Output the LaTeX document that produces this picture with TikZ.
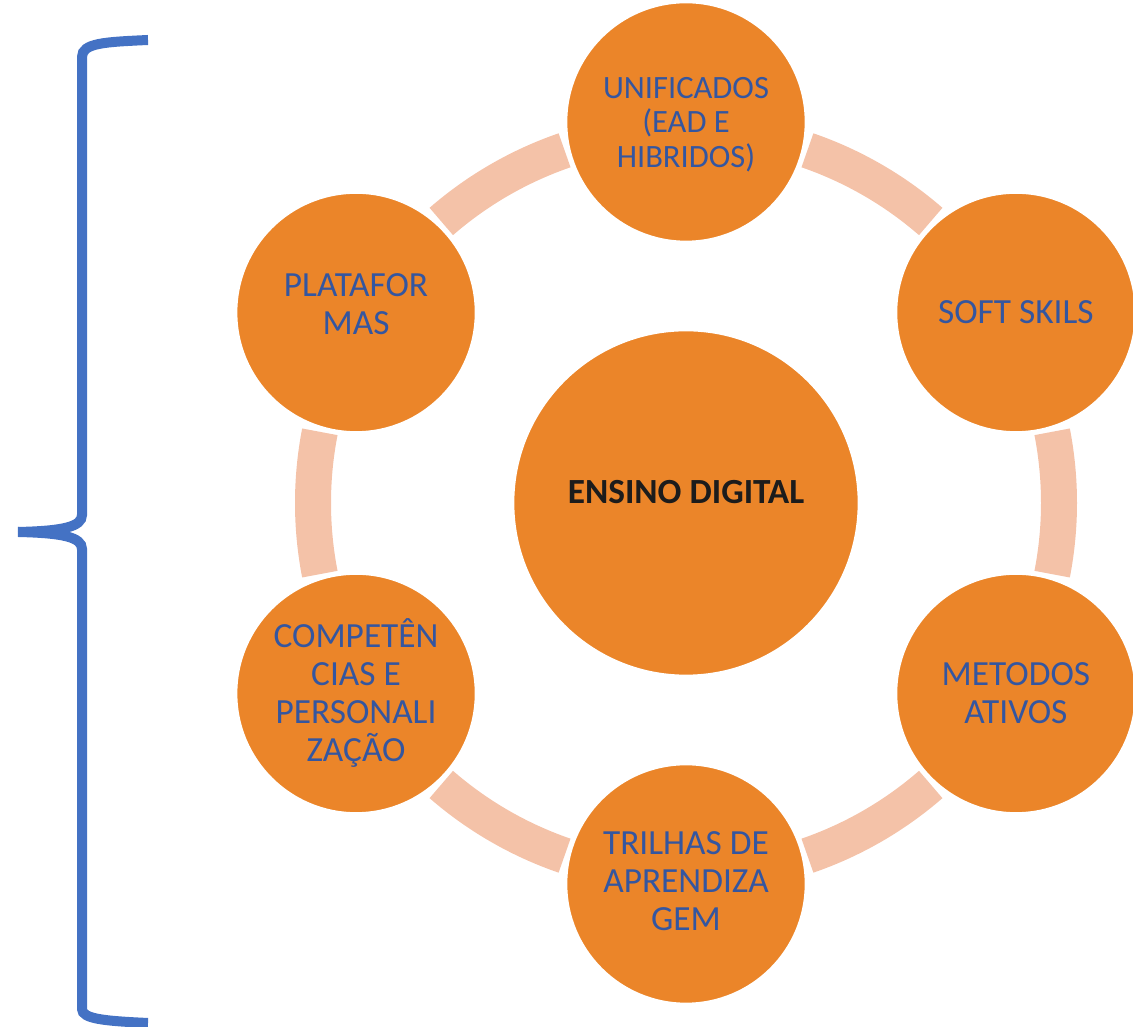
\documentclass[tikz,border=0pt]{standalone}
\usepackage{fontspec}
\setmainfont{Carlito}
\definecolor{orangefill}{RGB}{235,133,41}
\definecolor{peach}{RGB}{244,194,168}
\definecolor{txtblue}{RGB}{52,86,160}
\definecolor{txtdark}{RGB}{28,28,28}
\definecolor{braceblue}{RGB}{68,114,196}
\tikzset{
  outer/.style={circle, fill=orangefill, draw=white, line width=2pt, minimum size=180pt, inner sep=0pt},
  centre/.style={circle, fill=orangefill, draw=white, line width=2pt, minimum size=259.5pt, inner sep=0pt},
  outertext/.style={align=center, text=txtblue, inner sep=0pt, font=\fontsize{26.5}{28.5}\selectfont},
  toptext/.style={align=center, text=txtblue, inner sep=0pt, font=\fontsize{24.4}{26.2}\selectfont},
  centretext/.style={align=center, text=txtdark, inner sep=0pt, font=\fontsize{26.5}{28}\selectfont\bfseries},
  ringarc/.style={draw=peach, line width=27pt},
  bracestyle/.style={draw=braceblue, line width=7.5pt}
}
\begin{document}
\begin{tikzpicture}[x=0.75pt,y=0.75pt]
\useasboundingbox (0,0) rectangle (1133,1027);
\coordinate (C) at (686,524);
% ring arcs
\foreach \a in {90,30,-30,-90,-150,150}{
  \draw[ringarc] ([shift={(\a-19:279.75pt)}]C) arc[start angle=\a-19, end angle=\a-41, radius=279.75pt];
}
% circles
\node[centre] (c) at (C) {};
\node[outer] (n1) at ([shift={(90:285.75pt)}]C) {};
\node[outer] (n2) at ([shift={(30:285.75pt)}]C) {};
\node[outer] (n3) at ([shift={(-30:285.75pt)}]C) {};
\node[outer] (n4) at ([shift={(-90:285.75pt)}]C) {};
\node[outer] (n5) at ([shift={(-150:285.75pt)}]C) {};
\node[outer] (n6) at ([shift={(150:285.75pt)}]C) {};
% texts
\node[centretext] (tc) at ([yshift=8.5pt]c.center) {ENSINO DIGITAL};
\node[toptext] (t1) at ([yshift=-2pt]n1.center) {UNIFICADOS\\(EAD E\\HIBRIDOS)};
\node[outertext] (t2) at (n2.center) {SOFT SKILS};
\node[outertext] (t3) at (n3.center) {METODOS\\ATIVOS};
\node[outertext] (t4) at ([yshift=2pt]n4.center) {TRILHAS DE\\APRENDIZA\\GEM};
\node[outertext] (t5) at (n5.center) {COMPETÊN\\CIAS E\\PERSONALI\\ZAÇÃO};
\node[outertext] (t6) at ([yshift=6pt]n6.center) {PLATAFOR\\MAS};
% brace
\coordinate (bt) at (148,987);
\coordinate (btip) at (18,495);
\coordinate (bb) at (148,4);
\draw[bracestyle] (bt) .. controls (105,985) and (82,984) .. (82,970) -- (82,512)
  .. controls (82,500) and (62,496) .. (btip);
\draw[bracestyle] (btip) .. controls (62,494) and (82,490) .. (82,478) -- (82,18)
  .. controls (82,8) and (105,6) .. (bb);
\end{tikzpicture}
\end{document}
